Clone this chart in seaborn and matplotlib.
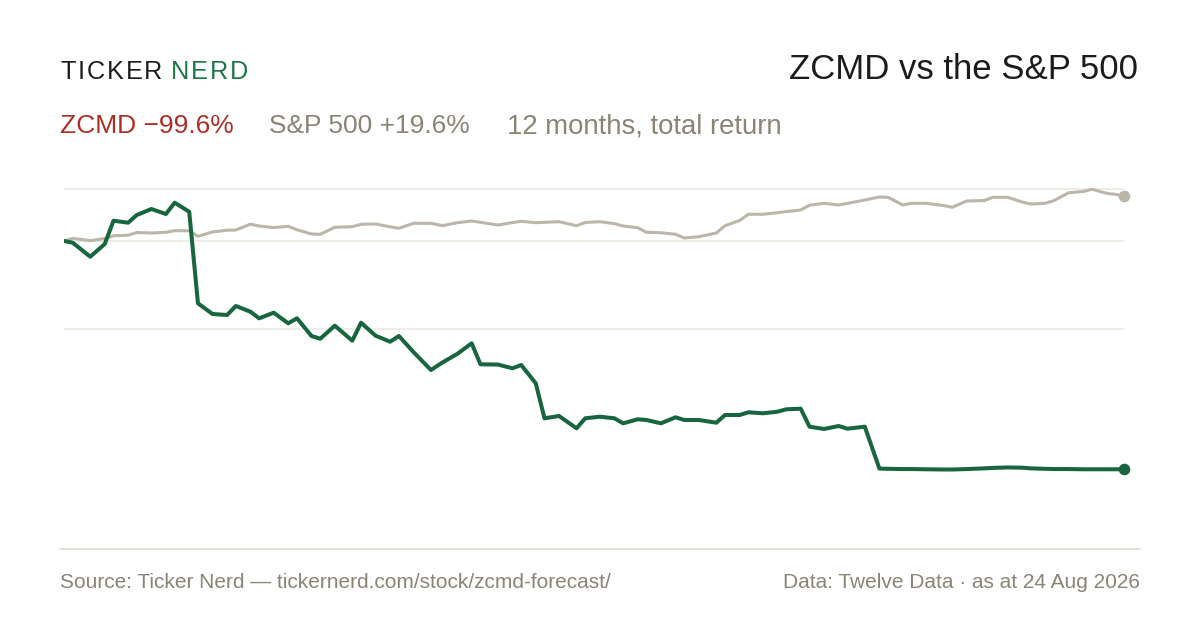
import numpy as np
import pandas as pd
import matplotlib
matplotlib.use("Agg")
import matplotlib.pyplot as plt
from matplotlib.lines import Line2D
import seaborn as sns

# NYSE closures in the window, trading days sampled every 3rd session + last day
holidays = ['2025-09-01', '2025-11-27', '2025-12-25', '2026-01-01', '2026-01-19',
            '2026-02-16', '2026-04-03', '2026-05-25', '2026-06-19', '2026-07-03']
sessions = pd.bdate_range('2025-08-25', '2026-08-24', freq='C', holidays=holidays)
dates = list(sessions[::3]) + [sessions[-1]]

# cumulative total return, %
zcmd = [0, -0.74, -6.85, -1.31, 8.86, 7.98, 11.34, 13.96, 11.78, 16.71,
        12.78, -27.18, -31.85, -32.29, -28.36, -30.85, -33.73, -31.28, -35.91, -33.73,
        -41.45, -42.63, -36.95, -43.50, -35.65, -41.32, -43.94, -41.45, -48.43, -56.28,
        -52.97, -49.30, -44.63, -53.80, -53.90, -55.54, -54.10, -62.09, -77.36, -76.35,
        -81.72, -77.36, -76.66, -77.36, -79.54, -77.79, -78.10, -79.54, -76.92, -78.10,
        -78.10, -79.28, -75.92, -75.92, -74.74, -75.17, -74.48, -73.43, -73.17, -81.02,
        -82.02, -80.72, -81.89, -81.02, -99.3, -99.4, -99.5, -99.5, -99.6, -99.7,
        -99.7, -99.5, -99.2, -99.0, -98.8, -98.9, -99.2, -99.4, -99.5, -99.5,
        -99.6, -99.6, -99.6, -99.6, -99.6]
snp = [0, 1.18, 0.13, 1.09, 2.27, 2.53, 3.71, 3.49, 3.80, 4.49,
       4.49, 2.05, 3.93, 4.71, 4.80, 7.33, 6.54, 5.85, 6.41, 4.89,
       3.05, 2.92, 5.98, 6.24, 7.29, 7.42, 6.20, 5.54, 7.72, 7.72,
       6.68, 7.98, 8.73, 8.16, 6.98, 8.03, 8.60, 7.98, 8.16, 8.42,
       6.68, 8.07, 8.42, 7.59, 6.54, 5.80, 3.80, 3.62, 2.92, 1.31,
       1.88, 3.49, 6.68, 8.94, 11.65, 11.65, 12.35, 12.83, 13.53, 15.62,
       16.45, 15.71, 16.40, 17.89, 19.20, 19.07, 15.71, 16.45, 16.45, 15.49,
       14.70, 17.45, 17.67, 19.07, 19.07, 17.02, 16.14, 16.45, 17.67, 21.07,
       21.60, 22.56, 20.81, 20.38, 19.60]

GREEN = '#17663f'
LOGO_GREEN = '#1e7548'
GREY_LINE = '#bcb5aa'
GREY_TXT = '#8a8477'
RED = '#ad2e26'
INK = '#1c1c1c'

df = pd.DataFrame({'date': dates, 'ZCMD': zcmd, 'S&P 500': snp})

sns.set_style('white')
plt.rcParams['font.family'] = ['Liberation Sans', 'DejaVu Sans']

W, H = 1200, 630
fig = plt.figure(figsize=(W / 100, H / 100), dpi=100)
fig.patch.set_facecolor('white')
ax = fig.add_axes([64 / W, 1 - 520 / H, 1060 / W, 350 / H])

sns.lineplot(data=df, x='date', y='S&P 500', ax=ax, color=GREY_LINE, lw=2.2,
             zorder=3, solid_joinstyle='round', solid_capstyle='round')
sns.lineplot(data=df, x='date', y='ZCMD', ax=ax, color=GREEN, lw=2.9,
             zorder=4, solid_joinstyle='round', solid_capstyle='round')
last = df.tail(1)
sns.scatterplot(data=last, x='date', y='S&P 500', ax=ax, color=GREY_LINE, s=70,
                linewidth=0, zorder=5, clip_on=False)
sns.scatterplot(data=last, x='date', y='ZCMD', ax=ax, color=GREEN, s=70,
                linewidth=0, zorder=6, clip_on=False)

ax.set_xlim(dates[0], dates[-1])
ax.set_ylim(-121.73, 30.98)
hi, lo = max(snp), min(zcmd)
ax.set_yticks([hi, (hi + lo) / 2, 0])
ax.grid(axis='y', color='#ebe8e1', lw=1.1)
ax.grid(axis='x', visible=False)
ax.set_axisbelow(True)
ax.tick_params(left=False, bottom=False, labelleft=False, labelbottom=False)
ax.set_xlabel('')
ax.set_ylabel('')
sns.despine(ax=ax, left=True, bottom=True)

renderer = fig.canvas.get_renderer()


def spaced(x_px, y_px, s, color, size, track):
    # letter-spaced text, one glyph at a time
    for ch in s:
        t = fig.text(x_px / W, 1 - y_px / H, ch, color=color, fontsize=size,
                     ha='left', va='baseline')
        x_px += t.get_window_extent(renderer).width + track
    return x_px


spaced(60, 79.3, 'TICKER', INK, 18.2, 2.0)
spaced(170.7, 79.3, 'NERD', LOGO_GREEN, 18.2, 2.0)

fig.text(1138 / W, 1 - 79.3 / H, 'ZCMD vs the S&P 500', color=INK, fontsize=25,
         ha='right', va='baseline')

fig.text(60 / W, 1 - 133.3 / H, 'ZCMD \u221299.6%', color=RED, fontsize=19,
         ha='left', va='baseline')
fig.text(269 / W, 1 - 133.3 / H, 'S&P 500 +19.6%', color=GREY_TXT, fontsize=19,
         ha='left', va='baseline')
fig.text(507 / W, 1 - 133.3 / H, '12 months, total return', color=GREY_TXT,
         fontsize=19.8, ha='left', va='baseline')

fig.add_artist(Line2D([60 / W, 1140 / W], [1 - 549 / H, 1 - 549 / H],
                      transform=fig.transFigure, color='#dedad1', lw=1.2))

fig.text(60 / W, 1 - 587.7 / H,
         'Source: Ticker Nerd \u2014 tickernerd.com/stock/zcmd-forecast/',
         color=GREY_TXT, fontsize=15, ha='left', va='baseline')
fig.text(1140 / W, 1 - 587.7 / H, 'Data: Twelve Data \u00b7 as at 24 Aug 2026',
         color=GREY_TXT, fontsize=15, ha='right', va='baseline')

fig.savefig('out.png', dpi=100, facecolor='white')
